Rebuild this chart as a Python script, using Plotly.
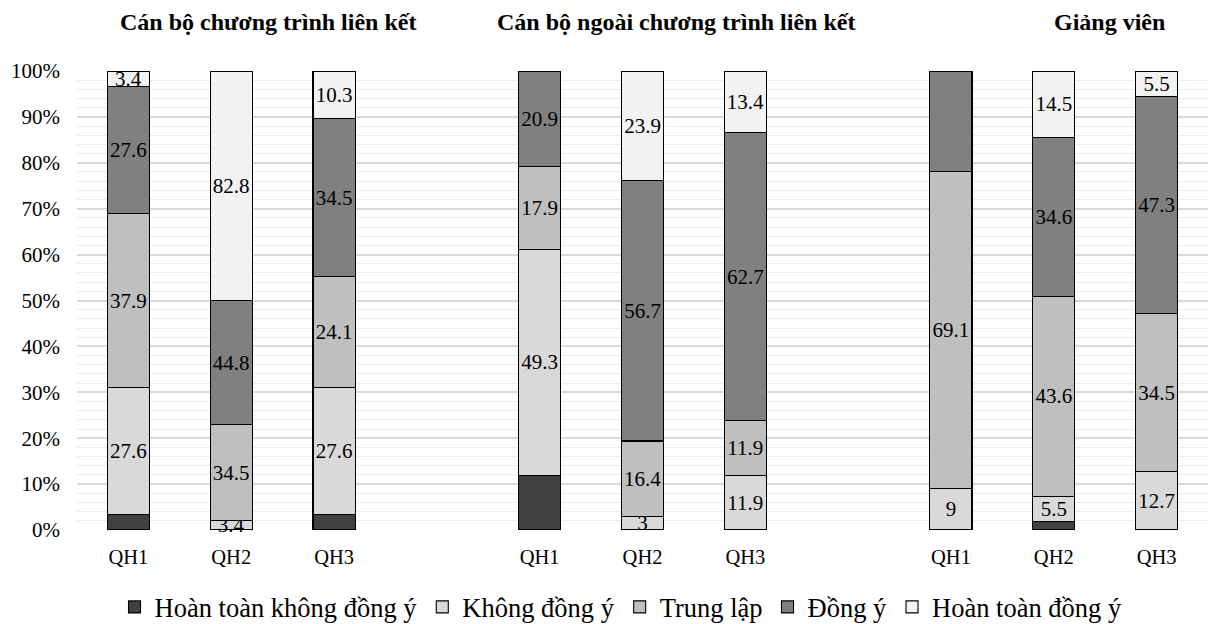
import plotly.graph_objects as go

# ---- data ----
groups = ["Cán bộ chương trình liên kết", "Cán bộ ngoài chương trình liên kết", "Giảng viên"]
questions = ["QH1", "QH2", "QH3"]

series_names = ["Hoàn toàn không đồng ý", "Không đồng ý", "Trung lập", "Đồng ý", "Hoàn toàn đồng ý"]
hoan_toan_khong_dong_y = [3.4, 0, 3.4, 11.9, 0, 0, 0, 1.8, 0]
khong_dong_y = [27.6, 3.4, 27.6, 49.3, 3, 11.9, 9, 5.5, 12.7]
trung_lap = [37.9, 34.5, 24.1, 17.9, 16.4, 11.9, 69.1, 43.6, 34.5]
dong_y = [27.6, 44.8, 34.5, 20.9, 56.7, 62.7, 21.8, 34.6, 47.3]
hoan_toan_dong_y = [3.4, 82.8, 10.3, 0, 23.9, 13.4, 0, 14.5, 5.5]
show_labels = [False, True, True, True, True]

colors = ["#404040", "#d9d9d9", "#bfbfbf", "#808080", "#f2f2f2"]
values = [hoan_toan_khong_dong_y, khong_dong_y, trung_lap, dong_y, hoan_toan_dong_y]

FONT = "Liberation Serif"

# category ids (with spacer slots between groups)
cats = []
bar_ids = []
for gi, g in enumerate(groups):
    for q in questions:
        cid = f"{q}|{gi}"
        cats.append(cid)
        bar_ids.append(cid)
    if gi < len(groups) - 1:
        cats.append(f"gap|{gi}")
tick_text = [c.split("|")[0] for c in bar_ids]

fig = go.Figure()
for name, vals, col, lab in zip(series_names, values, colors, show_labels):
    txt = [("" if (v == 0 or not lab) else f"{v:g}") for v in vals]
    fig.add_trace(go.Bar(
        x=bar_ids, y=vals, name=name,
        marker=dict(color=col, line=dict(color="#000000", width=1.1)),
        text=txt, textposition="inside", insidetextanchor="middle",
        textangle=0, constraintext="none", cliponaxis=False,
        textfont=dict(family=FONT, size=21, color="#000000"),
        hoverinfo="skip",
    ))

fig.update_layout(
    barmode="stack", barnorm="percent", bargap=0.59,
    width=1208, height=624,
    margin=dict(l=77, r=0, t=71, b=94, autoexpand=False),
    paper_bgcolor="white", plot_bgcolor="white",
    font=dict(family=FONT, color="#000000"),
    showlegend=True,
    legend=dict(orientation="h", x=0.481, xanchor="center",
                y=0.027, yref="container", yanchor="middle",
                font=dict(family=FONT, size=26.5, color="#000000"),
                traceorder="normal", itemwidth=30),
)
fig.update_xaxes(
    type="category", categoryorder="array", categoryarray=cats,
    tickvals=bar_ids, ticktext=tick_text, range=[-0.5, len(cats) - 0.5],
    showgrid=False, zeroline=False, showline=False, ticks="",
    tickfont=dict(family=FONT, size=20.5, color="#000000"), ticklabelstandoff=12,
)
fig.update_yaxes(
    range=[0, 100], dtick=10, ticksuffix="%",
    showgrid=True, gridcolor="#d9d9d9", gridwidth=2,
    minor=dict(dtick=2, showgrid=True, gridcolor="#ececec", gridwidth=1),
    zeroline=False, showline=False, ticks="",
    tickfont=dict(family=FONT, size=21, color="#000000"), ticklabelstandoff=16,
)

title_x = [0.169, 0.530, 0.913]
for g, xp in zip(groups, title_x):
    fig.add_annotation(text=f"<b>{g}</b>", x=xp, y=1.107, xref="paper", yref="paper",
                       xanchor="center", yanchor="middle", showarrow=False,
                       font=dict(family=FONT, size=24, color="#000000"))

fig.write_html("out.html")
